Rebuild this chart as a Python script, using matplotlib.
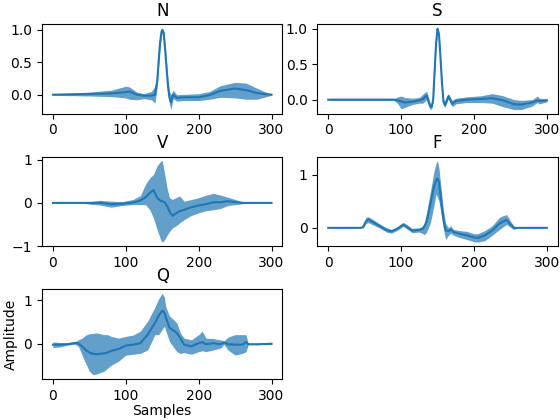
import matplotlib
matplotlib.use("Agg")
import matplotlib.pyplot as plt

# ---- data (sample index, mean, band low, band high) ----
n_x    = [0, 50, 80, 100, 105, 115, 125, 135, 140, 143, 145, 147, 149, 150, 152, 154, 156, 158, 160, 162, 165, 170, 180, 200, 215, 230, 250, 265, 280, 290, 300]
n_mean = [0.0, 0.01, 0.02, 0.04, 0.05, 0.0, -0.015, -0.015, 0.0, 0.2, 0.5, 0.8, 0.97, 1.0, 0.95, 0.7, 0.4, 0.12, -0.05, -0.12, 0.0, -0.05, -0.04, -0.04, -0.005, 0.06, 0.095, 0.07, 0.025, 0.01, 0.0]
n_lo   = [-0.01, -0.02, -0.03, -0.05, -0.07, -0.08, -0.06, -0.08, -0.13, 0.1, 0.42, 0.72, 0.93, 0.96, 0.9, 0.62, 0.3, 0.0, -0.15, -0.23, -0.06, -0.1, -0.09, -0.09, -0.07, -0.04, -0.05, -0.07, -0.07, -0.04, -0.01]
n_hi   = [0.01, 0.04, 0.07, 0.13, 0.12, 0.04, 0.015, 0.05, 0.13, 0.3, 0.58, 0.88, 1.01, 1.03, 1.0, 0.78, 0.5, 0.22, 0.05, 0.0, 0.07, 0.0, 0.005, 0.015, 0.05, 0.14, 0.19, 0.18, 0.1, 0.05, 0.01]

s_x    = [0, 90, 95, 100, 105, 115, 125, 130, 135, 140, 142, 144, 146, 148, 150, 152, 154, 156, 158, 160, 165, 170, 175, 190, 210, 225, 240, 255, 265, 280, 287, 290, 300]
s_mean = [0.0, 0.0, -0.01, -0.025, -0.04, -0.03, -0.01, 0.01, 0.06, -0.1, -0.1, 0.0, 0.4, 0.8, 1.0, 0.92, 0.6, 0.25, -0.02, -0.08, 0.05, -0.06, -0.02, 0.0, 0.01, 0.02, -0.01, -0.065, -0.07, -0.04, -0.01, -0.02, -0.01]
s_lo   = [-0.01, -0.01, -0.05, -0.13, -0.11, -0.07, -0.05, -0.05, 0.0, -0.14, -0.13, -0.04, 0.35, 0.75, 0.97, 0.88, 0.55, 0.2, -0.06, -0.11, 0.01, -0.1, -0.06, -0.04, -0.04, -0.05, -0.1, -0.14, -0.14, -0.09, -0.04, -0.06, -0.03]
s_hi   = [0.01, 0.01, 0.04, 0.05, 0.03, 0.02, 0.03, 0.08, 0.12, -0.05, -0.06, 0.04, 0.45, 0.85, 1.01, 0.96, 0.65, 0.3, 0.02, -0.04, 0.085, -0.01, 0.02, 0.04, 0.055, 0.085, 0.055, 0.0, -0.01, 0.0, 0.05, 0.02, 0.01]

v_x    = [0, 40, 50, 65, 80, 95, 110, 120, 127, 133, 138, 143, 148, 150, 153, 157, 160, 164, 170, 174, 180, 190, 200, 210, 220, 230, 240, 250, 260, 268, 300]
v_mean = [0.0, 0.0, 0.0, 0.0, -0.03, -0.02, 0.01, 0.055, 0.13, 0.23, 0.30, 0.12, 0.04, 0.04, 0.02, -0.08, -0.2, -0.3, -0.23, -0.19, -0.16, -0.1, -0.06, -0.03, 0.015, 0.015, 0.04, 0.02, 0.0, 0.0, 0.0]
v_lo   = [0.0, 0.0, -0.03, -0.05, -0.1, -0.06, -0.04, -0.04, -0.04, -0.16, -0.35, -0.62, -0.86, -0.91, -0.86, -0.74, -0.66, -0.58, -0.52, -0.46, -0.39, -0.29, -0.23, -0.18, -0.16, -0.13, -0.06, -0.04, -0.02, 0.0, 0.0]
v_hi   = [0.0, 0.0, 0.03, 0.06, 0.04, 0.03, 0.08, 0.17, 0.43, 0.58, 0.66, 0.86, 0.97, 0.98, 0.7, 0.31, 0.12, 0.08, 0.13, 0.16, 0.04, 0.08, 0.12, 0.18, 0.22, 0.18, 0.13, 0.08, 0.03, 0.0, 0.0]

f_x    = [0, 45, 48, 52, 55, 60, 70, 80, 87, 95, 103, 110, 115, 125, 130, 132, 135, 140, 145, 148, 150, 152, 155, 158, 161, 165, 168, 172, 180, 190, 200, 205, 215, 225, 235, 240, 245, 250, 255, 260, 300]
f_mean = [0.0, 0.0, 0.02, 0.13, 0.16, 0.12, 0.04, -0.04, -0.065, -0.013, 0.065, 0.0, -0.05, -0.04, -0.015, 0.03, 0.12, 0.44, 0.77, 0.9, 0.93, 0.86, 0.51, 0.18, -0.045, -0.065, -0.03, -0.08, -0.11, -0.14, -0.18, -0.19, -0.14, -0.05, 0.085, 0.12, 0.15, 0.065, 0.0, 0.0, 0.0]
f_lo   = [0.0, 0.0, 0.0, 0.085, 0.1, 0.065, 0.0, -0.08, -0.1, -0.045, 0.03, -0.04, -0.09, -0.08, -0.11, -0.13, -0.08, 0.085, 0.41, 0.64, 0.57, 0.5, 0.25, -0.01, -0.22, -0.14, -0.1, -0.14, -0.18, -0.22, -0.26, -0.27, -0.24, -0.14, -0.03, 0.02, 0.065, 0.01, -0.03, 0.0, 0.0]
f_hi   = [0.0, 0.0, 0.04, 0.2, 0.21, 0.17, 0.08, 0.0, -0.03, 0.02, 0.1, 0.04, -0.01, 0.0, 0.04, 0.1, 0.28, 0.67, 1.06, 1.22, 1.27, 1.12, 0.73, 0.34, 0.085, 0.0, 0.04, -0.03, -0.05, -0.065, -0.11, -0.11, -0.05, 0.04, 0.2, 0.23, 0.25, 0.13, 0.03, 0.0, 0.0]

q_x    = [0, 10, 20, 30, 35, 40, 45, 50, 55, 60, 70, 75, 80, 90, 100, 110, 120, 130, 140, 145, 150, 153, 155, 160, 170, 175, 180, 190, 200, 205, 210, 220, 230, 235, 240, 250, 260, 265, 268, 280, 300]
q_mean = [-0.02, -0.02, -0.01, 0.02, 0.01, -0.06, -0.14, -0.2, -0.23, -0.24, -0.22, -0.2, -0.16, -0.12, -0.04, -0.02, 0.015, 0.21, 0.48, 0.64, 0.76, 0.72, 0.6, 0.37, 0.25, 0.13, -0.02, -0.06, 0.015, 0.04, -0.01, 0.015, -0.01, 0.03, -0.01, -0.02, -0.02, 0.04, -0.01, -0.01, 0.0]
q_lo   = [-0.09, -0.07, -0.03, -0.01, -0.06, -0.26, -0.45, -0.63, -0.71, -0.69, -0.63, -0.56, -0.49, -0.4, -0.26, -0.24, -0.22, -0.14, 0.21, 0.21, 0.33, 0.4, 0.29, 0.05, -0.18, -0.22, -0.2, -0.24, -0.18, -0.16, -0.18, -0.14, -0.1, -0.01, -0.14, -0.26, -0.22, -0.18, -0.02, -0.02, -0.01]
q_hi   = [0.04, 0.03, 0.02, 0.05, 0.09, 0.13, 0.2, 0.23, 0.24, 0.25, 0.21, 0.21, 0.17, 0.13, 0.17, 0.2, 0.29, 0.52, 0.84, 1.03, 1.16, 1.07, 0.84, 0.64, 0.48, 0.25, 0.13, 0.09, 0.21, 0.29, 0.13, 0.12, 0.09, 0.07, 0.15, 0.21, 0.21, 0.21, 0.01, 0.0, 0.01]

classes = ["N", "S", "V", "F", "Q"]
series = {
    "N": (n_x, n_mean, n_lo, n_hi),
    "S": (s_x, s_mean, s_lo, s_hi),
    "V": (v_x, v_mean, v_lo, v_hi),
    "F": (f_x, f_mean, f_lo, f_hi),
    "Q": (q_x, q_mean, q_lo, q_hi),
}
x_ticks = [0, 100, 200, 300]

fig, axes = plt.subplots(3, 2, figsize=(5.6, 4.2), dpi=100)
flat = axes.ravel()
for ax, name in zip(flat, classes):
    x, m, lo, hi = series[name]
    ax.fill_between(x, lo, hi, color="C0", alpha=0.7, linewidth=0)
    ax.plot(x, m, color="C0", linewidth=1.5)
    ax.set_title(name)
    ax.set_xticks(x_ticks)
flat[-1].axis("off")
flat[4].set_xlabel("Samples", labelpad=1)
flat[4].set_ylabel("Amplitude")
fig.subplots_adjust(left=0.075, right=0.996, top=0.943, bottom=0.098,
                    wspace=0.145, hspace=0.478)
fig.savefig("out.png", dpi=100)
